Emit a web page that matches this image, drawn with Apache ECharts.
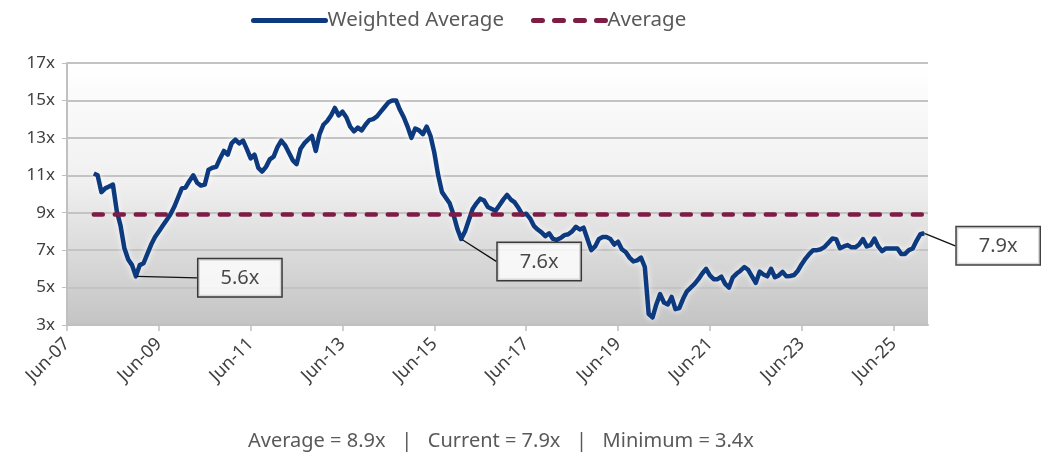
<!DOCTYPE html>
<html lang="en">
<head>
    <meta charset="UTF-8">
    <title>Weighted Average</title>
    <script src="https://cdn.jsdelivr.net/npm/echarts@6/dist/echarts.min.js"></script>
    <style>
        html, body { margin: 0; padding: 0; background: #fff; }
        #main { width: 1041px; height: 454px; }
    </style>
</head>
<body>
<div id="main"></div>
<script type="text/javascript">
    // monthly categories, Jun-07 .. Mar-26
    var monthNames = ['Jan','Feb','Mar','Apr','May','Jun','Jul','Aug','Sep','Oct','Nov','Dec'];
    var firstYear = 2007, firstMonth = 5, monthCount = 226;
    var months = [];
    for (var i = 0; i < monthCount; i++) {
        var mi = firstMonth + i;
        var yy = firstYear + Math.floor(mi / 12);
        months.push(monthNames[mi % 12] + '-' + String(yy).slice(2));
    }

    // weighted average multiple, monthly from Jan-08 to Feb-26
    var seriesStart = 'Jan-08';
    var weighted = [
        11.1, 11.0, 10.1, 10.3, 10.4, 10.5, 9.1, 8.3, 7.1, 6.5,
        6.2, 5.6, 6.2, 6.3, 6.8, 7.3, 7.7, 8.0, 8.3, 8.6,
        8.9, 9.3, 9.8, 10.3, 10.35, 10.7, 11.0, 10.6, 10.45, 10.5,
        11.3, 11.4, 11.45, 11.9, 12.3, 12.1, 12.7, 12.9, 12.7, 12.85,
        12.4, 11.9, 12.1, 11.4, 11.2, 11.45, 11.85, 12.0, 12.5, 12.85,
        12.6, 12.2, 11.8, 11.6, 12.4, 12.7, 12.9, 13.1, 12.3, 13.2,
        13.7, 13.9, 14.2, 14.6, 14.2, 14.4, 14.1, 13.6, 13.35, 13.55,
        13.4, 13.7, 13.95, 14.0, 14.15, 14.4, 14.65, 14.9, 15.0, 15.0,
        14.5, 14.1, 13.6, 13.0, 13.5, 13.4, 13.2, 13.6, 13.1, 12.2,
        11.0, 10.1, 9.8, 9.5, 8.9, 8.15, 7.6, 8.0, 8.6, 9.2,
        9.5, 9.75, 9.65, 9.3, 9.2, 9.1, 9.4, 9.7, 9.95, 9.7,
        9.55, 9.25, 8.9, 8.95, 8.7, 8.3, 8.1, 7.95, 7.75, 7.9,
        7.6, 7.55, 7.65, 7.8, 7.85, 8.0, 8.25, 8.1, 8.2, 7.6,
        7.0, 7.2, 7.6, 7.7, 7.7, 7.6, 7.3, 7.45, 7.05, 6.9,
        6.6, 6.4, 6.45, 6.6, 6.1, 3.6, 3.4, 4.1, 4.65, 4.2,
        4.1, 4.5, 3.85, 3.9, 4.4, 4.8, 5.0, 5.2, 5.45, 5.75,
        6.0, 5.65, 5.45, 5.45, 5.58, 5.2, 5.0, 5.55, 5.75, 5.9,
        6.1, 5.95, 5.6, 5.25, 5.85, 5.7, 5.6, 6.0, 5.55, 5.65,
        5.84, 5.6, 5.62, 5.67, 5.9, 6.25, 6.55, 6.8, 7.0, 7.0,
        7.05, 7.18, 7.4, 7.62, 7.59, 7.1, 7.2, 7.27, 7.15, 7.15,
        7.3, 7.59, 7.2, 7.27, 7.62, 7.2, 6.95, 7.09, 7.09, 7.09,
        7.09, 6.8, 6.8, 7.0, 7.09, 7.5, 7.85, 7.9
    ];
    var averageValue = 8.9;
    var calloutMonths = ['Dec-08', 'Jan-16', 'Feb-26'];
    var yTicks = [3, 17, 2]; // min, max, step

    var startIdx = months.indexOf(seriesStart);
    var endIdx = startIdx + weighted.length - 1;
    var weightedData = [], averageData = [];
    for (var k = 0; k < months.length; k++) {
        var inside = k >= startIdx && k <= endIdx;
        weightedData.push(inside ? weighted[k - startIdx] : null);
        averageData.push(inside ? averageValue : null);
    }
    var calloutData = calloutMonths.map(function (m) {
        var idx = months.indexOf(m);
        return [idx, weightedData[idx]];
    });
    var minValue = Math.min.apply(null, weighted);
    var current = weighted[weighted.length - 1];

    // label box shifts (px) for the callouts
    var calloutShift = [[104, 21], [78, 42], [74, 32]];

    var font = 'Noto Sans';
    var sep = '   |   ';
    var myChart = echarts.init(document.getElementById('main'));
    myChart.setOption({
        animation: false,
        textStyle: { fontFamily: font },
        title: {
            text: 'Average = ' + averageValue.toFixed(1) + 'x' + sep + 'Current = ' + current.toFixed(1) +
                'x' + sep + 'Minimum = ' + minValue.toFixed(1) + 'x',
            left: 243,
            top: 426,
            textStyle: { fontSize: 20, fontWeight: 'normal', color: '#595959', fontFamily: font }
        },
        legend: {
            data: ['Weighted Average', 'Average'],
            left: 246,
            top: 5,
            itemWidth: 72,
            itemHeight: 6,
            itemGap: 27,
            itemStyle: { opacity: 0 },
            lineStyle: { width: 5, cap: 'round' },
            textStyle: { fontSize: 20.5, color: '#595959', padding: [0, 0, 0, -3] }
        },
        grid: {
            left: 67,
            right: 113,
            top: 63,
            bottom: 129,
            containLabel: false,
            show: true,
            borderWidth: 0,
            backgroundColor: new echarts.graphic.LinearGradient(0, 0, 0, 1, [
                { offset: 0, color: '#ffffff' },
                { offset: 0.45, color: '#f0f0f0' },
                { offset: 1, color: '#c4c4c4' }
            ])
        },
        xAxis: {
            type: 'category',
            data: months,
            boundaryGap: false,
            axisLine: { lineStyle: { color: '#c0c0c0', width: 2 } },
            axisTick: {
                interval: function (i) { return i % 24 === 0; },
                length: 6,
                lineStyle: { color: '#c0c0c0', width: 1.5 }
            },
            axisLabel: {
                interval: function (i) { return i % 24 === 0; },
                rotate: 45,
                margin: 16,
                fontSize: 18,
                color: '#404040'
            },
            splitLine: { show: false }
        },
        yAxis: {
            type: 'value',
            min: yTicks[0],
            max: yTicks[1],
            interval: yTicks[2],
            axisLine: { show: true, lineStyle: { color: '#c0c0c0', width: 2 } },
            axisTick: { show: true, length: 5, lineStyle: { color: '#c0c0c0' } },
            axisLabel: { formatter: '{value}x', fontSize: 17, color: '#404040', margin: 12 },
            splitLine: { lineStyle: { color: '#c3c3c3', width: 2 } }
        },
        series: [
            {
                name: 'Weighted Average',
                type: 'line',
                data: weightedData,
                symbol: 'none',
                showSymbol: false,
                color: '#0d3a7f',
                lineStyle: {
                    width: 4.5,
                    color: '#0d3a7f',
                    join: 'round',
                    shadowColor: 'rgba(255,255,255,0.9)',
                    shadowBlur: 6
                },
                z: 2
            },
            {
                name: 'Average',
                type: 'line',
                data: averageData,
                symbol: 'none',
                showSymbol: false,
                color: '#7d1c45',
                lineStyle: { width: 4.5, color: '#7d1c45', type: [9, 12], cap: 'round' },
                z: 3
            },
            {
                name: 'callouts',
                type: 'scatter',
                data: calloutData,
                symbolSize: 2,
                itemStyle: { color: '#0d3a7f' },
                z: 5,
                label: {
                    show: true,
                    position: 'top',
                    distance: 0,
                    formatter: function (p) { return p.value[1].toFixed(1) + 'x'; },
                    fontSize: 20,
                    color: '#1a1a1a',
                    backgroundColor: '#ffffff',
                    borderColor: '#111',
                    borderWidth: 1.5,
                    textBorderWidth: 0,
                    textShadowBlur: 0,
                    shadowBlur: 0,
                    shadowOffsetX: 0,
                    shadowOffsetY: 0,
                    shadowColor: 'transparent',
                    padding: [9, 22, 8, 22]
                },
                labelLine: { show: true, lineStyle: { color: '#111', width: 1.3 } },
                labelLayout: function (p) {
                    var s = calloutShift[p.dataIndex];
                    return { dx: s[0], dy: s[1] };
                },
                emphasis: { disabled: true }
            }
        ]
    });
</script>
</body>
</html>
